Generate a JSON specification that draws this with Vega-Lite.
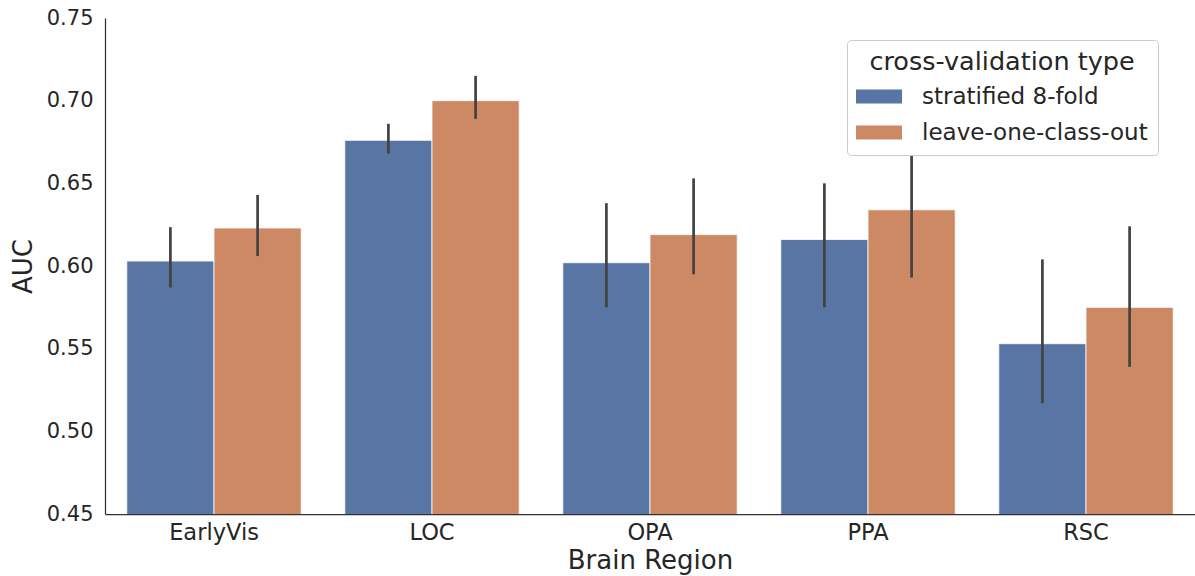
{
  "$schema": "https://vega.github.io/schema/vega-lite/v6.json",
  "width": 1090,
  "height": 496,
  "autosize": {"type": "none"},
  "padding": {"left": 105, "top": 18, "right": 0, "bottom": 62},
  "background": "white",
  "config": {
    "font": "DejaVu Sans",
    "view": {"stroke": null},
    "axis": {
      "grid": false,
      "ticks": false,
      "domainColor": "#333333",
      "domainWidth": 1.25,
      "labelColor": "#262626",
      "titleColor": "#262626",
      "labelFont": "DejaVu Sans",
      "titleFont": "DejaVu Sans",
      "titleFontWeight": "normal",
      "titleFontSize": 26
    }
  },
  "data": {
    "values": [
      {"region": "EarlyVis", "cv": "stratified 8-fold", "auc": 0.603, "lo": 0.587, "hi": 0.6235},
      {"region": "EarlyVis", "cv": "leave-one-class-out", "auc": 0.623, "lo": 0.606, "hi": 0.643},
      {"region": "LOC", "cv": "stratified 8-fold", "auc": 0.676, "lo": 0.668, "hi": 0.686},
      {"region": "LOC", "cv": "leave-one-class-out", "auc": 0.700, "lo": 0.689, "hi": 0.715},
      {"region": "OPA", "cv": "stratified 8-fold", "auc": 0.602, "lo": 0.575, "hi": 0.638},
      {"region": "OPA", "cv": "leave-one-class-out", "auc": 0.619, "lo": 0.595, "hi": 0.653},
      {"region": "PPA", "cv": "stratified 8-fold", "auc": 0.616, "lo": 0.575, "hi": 0.650},
      {"region": "PPA", "cv": "leave-one-class-out", "auc": 0.634, "lo": 0.593, "hi": 0.669},
      {"region": "RSC", "cv": "stratified 8-fold", "auc": 0.553, "lo": 0.517, "hi": 0.604},
      {"region": "RSC", "cv": "leave-one-class-out", "auc": 0.575, "lo": 0.539, "hi": 0.624}
    ]
  },
  "encoding": {
    "x": {
      "field": "region",
      "type": "nominal",
      "sort": ["EarlyVis", "LOC", "OPA", "PPA", "RSC"],
      "scale": {"paddingInner": 0.2, "paddingOuter": 0.1},
      "axis": {"title": "Brain Region", "labelAngle": 0, "labelFontSize": 22.5, "labelPadding": 7, "titlePadding": 4}
    },
    "xOffset": {
      "field": "cv",
      "type": "nominal",
      "sort": ["stratified 8-fold", "leave-one-class-out"],
      "scale": {"paddingInner": 0, "paddingOuter": 0}
    }
  },
  "layer": [
    {
      "mark": {"type": "bar", "stroke": "white", "strokeWidth": 1, "strokeOpacity": 0.8, "clip": true},
      "encoding": {
        "y": {
          "field": "auc",
          "type": "quantitative",
          "scale": {"domain": [0.45, 0.75], "nice": false, "zero": false},
          "axis": {
            "title": "AUC",
            "values": [0.45, 0.5, 0.55, 0.6, 0.65, 0.7, 0.75],
            "format": ".2f",
            "labelFontSize": 21,
            "labelPadding": 12,
            "titlePadding": 10
          }
        },
        "color": {
          "field": "cv",
          "type": "nominal",
          "sort": ["stratified 8-fold", "leave-one-class-out"],
          "scale": {"range": ["#5875a4", "#cc8963"]},
          "legend": {
            "title": "cross-validation type",
            "orient": "none",
            "legendX": 742,
            "legendY": 22,
            "titleFontSize": 25.5,
            "titleFontWeight": "normal",
            "titleColor": "#262626",
            "titleAnchor": "middle",
            "titlePadding": 9.5,
            "titleLimit": 500,
            "labelFontSize": 23,
            "labelColor": "#262626",
            "labelLimit": 500,
            "labelOffset": 31.5,
            "symbolType": "M-2,-0.6H2V0.6H-2Z",
            "symbolSize": 529,
            "symbolOffset": 10.5,
            "symbolStrokeWidth": 0,
            "symbolOpacity": 1,
            "rowPadding": 12,
            "padding": 10,
            "strokeColor": "#cccccc",
            "fillColor": "white",
            "cornerRadius": 4
          }
        }
      }
    },
    {
      "mark": {"type": "rule", "color": "#424242", "strokeWidth": 2.7},
      "encoding": {
        "y": {"field": "lo", "type": "quantitative"},
        "y2": {"field": "hi"}
      }
    }
  ]
}
